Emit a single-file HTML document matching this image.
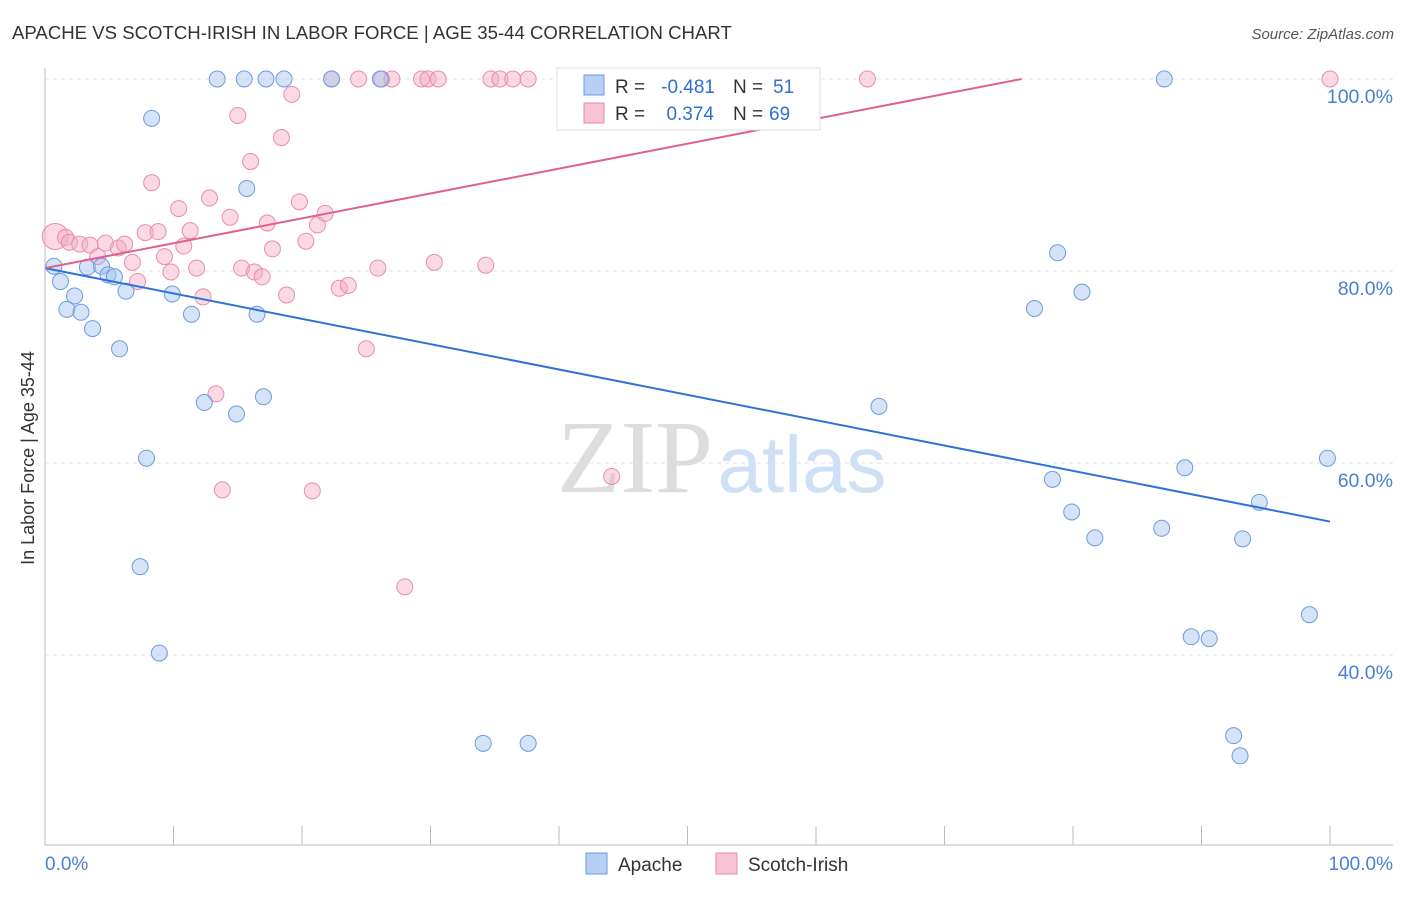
<!DOCTYPE html>
<html><head><meta charset="utf-8"><style>
body{margin:0;background:#fff;font-family:"Liberation Sans",sans-serif;}
</style></head><body>
<svg width="1406" height="892" xmlns="http://www.w3.org/2000/svg">
<text x="12" y="39" font-size="18.6" fill="#333">APACHE VS SCOTCH-IRISH IN LABOR FORCE | AGE 35-44 CORRELATION CHART</text>
<text x="1394" y="39" font-size="15" fill="#555" font-style="italic" text-anchor="end">Source: ZipAtlas.com</text>
<text x="0" y="0" font-size="18" fill="#333" transform="translate(34,458) rotate(-90)" text-anchor="middle">In Labor Force | Age 35-44</text>
<g id="grid"></g>
<text x="635" y="492" font-size="104" fill="#ddd" font-family="Liberation Serif" text-anchor="middle">ZIP</text>
<text x="802" y="492" font-size="80" fill="#cfdff5" text-anchor="middle">atlas</text>
<g id="marks"></g>
<g>
<rect x="557" y="68" width="263" height="62" fill="#fff" stroke="#ddd"/>
<rect x="584" y="75" width="20" height="20" fill="#b6cff3" stroke="#6d9be0"/>
<rect x="584" y="103" width="20" height="20" fill="#f8c3d5" stroke="#e88aab"/>
<text x="615" y="93" font-size="19" fill="#333">R =</text>
<text x="715" y="93" font-size="19" fill="#2f6fd0" text-anchor="end">-0.481</text>
<text x="733" y="93" font-size="19" fill="#333">N =</text>
<text x="773" y="93" font-size="19" fill="#2f6fd0">51</text>
<text x="615" y="120" font-size="19" fill="#333">R =</text>
<text x="714" y="120" font-size="19" fill="#2f6fd0" text-anchor="end">0.374</text>
<text x="733" y="120" font-size="19" fill="#333">N =</text>
<text x="769" y="120" font-size="19" fill="#2f6fd0">69</text>
</g>
<g>
<rect x="586" y="853" width="21" height="21" fill="#b6cff3" stroke="#6d9be0"/>
<text x="618" y="871" font-size="19" fill="#333">Apache</text>
<rect x="716" y="853" width="21" height="21" fill="#f8c3d5" stroke="#e88aab"/>
<text x="748" y="871" font-size="19" fill="#333">Scotch-Irish</text>
</g>
<text x="45" y="870" font-size="19" fill="#4a7fd6">0.0%</text>
<text x="1393" y="870" font-size="19" fill="#4a7fd6" text-anchor="end">100.0%</text>
</svg>
<script>
const yTicks=[100,80,60,40];
const yTickLabels=["100.0%","80.0%","60.0%","40.0%"];
const apacheX=[13.4,15.5,17.2,18.6,22.3,26.1,87.1,8.3,15.7,0.7,1.2,3.3,4.4,2.3,1.7,2.8,3.7,4.9,5.4,6.3,9.9,11.4,16.5,5.8,12.4,14.9,17.0,7.9,7.4,8.9,34.1,37.6,64.9,78.8,77.0,80.7,78.4,79.9,81.7,86.9,88.7,93.2,94.5,99.8,89.2,90.6,98.4,92.5,93.0];
const apacheY=[100,100,100,100,100,100,100,95.9,88.6,80.5,78.9,80.4,80.5,77.4,76.0,75.7,74.0,79.6,79.4,77.9,77.6,75.5,75.5,71.9,66.3,65.1,66.9,60.5,49.2,40.2,30.8,30.8,65.9,81.9,76.1,77.8,58.3,54.9,52.2,53.2,59.5,52.1,55.9,60.5,41.9,41.7,44.2,31.6,29.5];
const scotX=[0.8,1.6,1.9,2.7,3.5,4.1,4.7,5.7,6.2,6.8,7.2,7.8,8.3,8.8,9.3,9.8,10.4,10.8,11.3,11.8,12.3,12.8,13.3,13.8,14.4,15.0,15.3,16.0,16.3,16.9,17.3,17.7,18.4,18.8,19.2,19.8,20.3,20.8,21.2,21.8,22.3,22.9,23.6,24.4,25.0,25.9,26.2,27.0,28.0,29.3,29.8,30.3,30.6,34.7,35.4,36.4,37.6,34.3,40.5,44.1,53.0,64.0,100];
const scotY=[83.6,83.5,83.0,82.8,82.7,81.5,82.9,82.4,82.8,80.9,78.9,84.0,89.2,84.1,81.5,79.9,86.5,82.6,84.2,80.3,77.3,87.6,67.2,57.2,85.6,96.2,80.3,91.4,79.9,79.4,85.0,82.3,93.9,77.5,98.4,87.2,83.1,57.1,84.8,86.0,100,78.2,78.5,100,71.9,80.3,100,100,47.1,100,100,80.9,100,100,100,100,100,80.6,100,58.6,100,100,100];
const apacheTrend=[80.3,53.9];
const scotTrend=[80.3,100,76];
const X=v=>45+v*12.85, Y=v=>79+(100-v)*9.6;
const NS="http://www.w3.org/2000/svg";
function mk(t,a,p){const e=document.createElementNS(NS,t);for(const k in a)e.setAttribute(k,a[k]);p.appendChild(e);return e;}
const grid=document.getElementById('grid'),marks=document.getElementById('marks');
yTicks.forEach((t,i)=>{
 const l=mk('line',{x1:45,x2:1393,y1:Y(t),y2:Y(t),stroke:'#e3e3e3','stroke-dasharray':'4,4'},grid);
 
 
 const tx=mk('text',{x:1393,y:Y(t)+24,'font-size':19.5,fill:'#4a7fd6','text-anchor':'end'},grid);
 tx.textContent=yTickLabels[i];
 
 
});
const ax=mk('line',{x1:45,x2:1393,y1:845,y2:845,stroke:'#bbb'},grid);


const ay=mk('line',{x1:45,x2:45,y1:68,y2:845,stroke:'#bbb'},grid);


for(let i=0;i<=10;i++){const t=mk('line',{x1:X(i*10),x2:X(i*10),y1:826,y2:845,stroke:'#bbb'},grid);
 
 }
scotX.forEach((x,i)=>{const c=mk('circle',{cx:X(x),cy:Y(scotY[i]),r:i==0?13:8,fill:'rgba(244,170,196,0.45)',stroke:'#e98cae','stroke-width':1},marks);
 
 });
apacheX.forEach((x,i)=>{const c=mk('circle',{cx:X(x),cy:Y(apacheY[i]),r:8,fill:'rgba(160,192,240,0.45)',stroke:'#6d9be0','stroke-width':1},marks);
 
 });
const bl=mk('line',{x1:X(0),y1:Y(apacheTrend[0]),x2:X(100),y2:Y(apacheTrend[1]),stroke:'#2f72d6','stroke-width':2},marks);


const pl=mk('line',{x1:X(0),y1:Y(scotTrend[0]),x2:X(scotTrend[2]),y2:Y(scotTrend[1]),stroke:'#e0608e','stroke-width':2},marks);


</script>
</body></html>
